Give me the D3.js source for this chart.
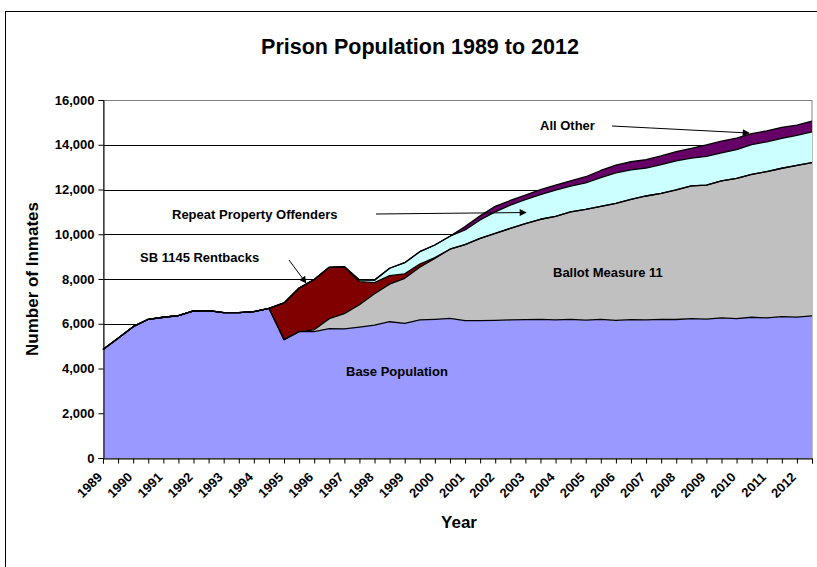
<!DOCTYPE html>
<html>
<head>
<meta charset="utf-8">
<script src="https://cdn.jsdelivr.net/npm/d3@7"></script>
<style>
  html, body { margin: 0; padding: 0; background: #fff; }
  svg { display: block; }
  text { font-family: "Liberation Sans", Arial, sans-serif; font-weight: bold; fill: #000; }
</style>
</head>
<body>
<svg id="chart" width="817" height="567"></svg>
<script>
// ---------- DATA (half-year observations, 1989 to 2012) ----------
const years = [1989,1990,1991,1992,1993,1994,1995,1996,1997,1998,1999,2000,
               2001,2002,2003,2004,2005,2006,2007,2008,2009,2010,2011,2012];

const basePopulation = [4850,5350,5870,6200,6290,6360,6580,6590,6500,6500,6540,6690,
                        5290,5650,5650,5780,5770,5850,5940,6090,6020,6170,6200,6240,
                        6140,6140,6150,6170,6180,6200,6170,6200,6160,6200,6150,6180,
                        6170,6200,6190,6230,6210,6260,6230,6290,6260,6320,6300,6350];

const ballotMeasure11 = [0,0,0,0,0,0,0,0,0,0,0,0,
                         0,0,80,450,680,1000,1400,1680,2010,2360,2720,3090,
                         3400,3680,3890,4090,4300,4470,4630,4800,4950,5050,5230,5380,
                         5540,5630,5790,5930,5990,6130,6270,6390,6540,6630,6780,6850];

const sb1145Rentbacks = [0,0,0,0,0,0,0,0,0,0,0,0,
                         1640,1950,2250,2290,2100,1030,500,380,200,140,40,0,
                         0,0,0,0,0,0,0,0,0,0,0,0,
                         0,0,0,0,0,0,0,0,0,0,0,0];

const repeatPropertyOffenders = [0,0,0,0,0,0,0,0,0,0,0,0,
                                 0,0,0,0,0,80,110,330,500,550,560,580,
                                 650,820,960,1040,1070,1100,1170,1150,1190,1280,1360,1320,
                                 1250,1280,1300,1240,1280,1250,1280,1330,1330,1340,1340,1380];

const allOther = [0,0,0,0,0,0,0,0,0,0,0,0,
                  0,0,0,0,0,0,0,0,0,0,0,0,
                  150,180,250,210,200,220,230,240,270,320,350,360,
                  370,390,410,440,510,520,520,490,490,490,460,480];

const yTicks = [0,2000,4000,6000,8000,10000,12000,14000,16000];

const seriesNames = ["Base Population","Ballot Measure 11","SB 1145 Rentbacks",
                     "Repeat Property Offenders","All Other"];
const seriesColors = ["#9999FF","#C0C0C0","#800000","#CCFFFF","#660066"];

// ---------- BUILD TABLE ----------
const periods = years.flatMap(y => [y + "a", y + "b"]);
const table = periods.map((p, i) => ({
  period: p,
  "Base Population": basePopulation[i],
  "Ballot Measure 11": ballotMeasure11[i],
  "SB 1145 Rentbacks": sb1145Rentbacks[i],
  "Repeat Property Offenders": repeatPropertyOffenders[i],
  "All Other": allOther[i]
}));

// ---------- LAYOUT ----------
const svg = d3.select("#chart");
const plot = { left: 103, right: 812, top: 100, bottom: 458 };

// outer chart frame
svg.append("rect").attr("x", 5.5).attr("y", 11.5).attr("width", 900).attr("height", 700)
  .attr("fill", "none").attr("stroke", "#000").attr("stroke-width", 1);

const x = d3.scalePoint().domain(periods).range([plot.left, plot.right]);
const y = d3.scaleLinear().domain([0, 16000]).range([plot.bottom, plot.top]);

// gridlines
svg.append("g").selectAll("line").data(yTicks.filter(t => t > 0 && t < 16000)).join("line")
  .attr("x1", plot.left).attr("x2", plot.right)
  .attr("y1", d => Math.round(y(d)) + 0.5).attr("y2", d => Math.round(y(d)) + 0.5)
  .attr("stroke", "#000").attr("stroke-width", 1);

// plot-area border (gray)
svg.append("rect").attr("x", plot.left + 0.5).attr("y", plot.top + 0.5)
  .attr("width", plot.right - plot.left - 0.5).attr("height", plot.bottom - plot.top)
  .attr("fill", "none").attr("stroke", "#808080").attr("stroke-width", 1);

// stacked areas
const stack = d3.stack().keys(seriesNames);
const layers = stack(table);

const area = d3.area()
  .x(d => x(d.data.period))
  .y0(d => y(d[0]))
  .y1(d => y(d[1]));
const topLine = d3.line()
  .x(d => x(d.data.period))
  .y(d => y(d[1]));

const gAreas = svg.append("g");
layers.forEach((layer, k) => {
  gAreas.append("path").datum(layer)
    .attr("d", area)
    .attr("fill", seriesColors[k])
    .attr("stroke", "none");
});
layers.forEach((layer, k) => {
  gAreas.append("path").datum(layer)
    .attr("d", topLine)
    .attr("fill", "none")
    .attr("stroke", "#000")
    .attr("stroke-width", 1.3)
    .attr("stroke-linejoin", "round");
});

// axes
const yAxis = d3.axisLeft(y).tickValues(yTicks).tickSize(5).tickFormat(d3.format(","));
const gy = svg.append("g").attr("transform", `translate(${plot.left + 0.5},0)`).call(yAxis);
gy.select(".domain").attr("stroke", "#000");
gy.selectAll(".tick line").attr("stroke", "#000");
gy.selectAll(".tick text").attr("x", -9).attr("font-size", 13)
  .style("font-family", "'Liberation Sans', Arial, sans-serif").style("font-weight", "bold");

const xAxis = d3.axisBottom(x).tickSize(5).tickFormat(() => "");
const gx = svg.append("g").attr("transform", `translate(0,${plot.bottom + 0.5})`).call(xAxis);
gx.select(".domain").attr("stroke", "#000");
gx.selectAll(".tick line").attr("stroke", "#000");

// x tick labels: one per year (first half-year category)
svg.append("g").selectAll("text").data(years).join("text")
  .attr("transform", d => `translate(${x(d + "a")},${plot.bottom + 20}) rotate(-45)`)
  .attr("text-anchor", "end")
  .attr("font-size", 13)
  .text(d => d);

// title and axis titles
svg.append("text").attr("x", 420).attr("y", 54).attr("text-anchor", "middle")
  .attr("font-size", 21.5).text("Prison Population 1989 to 2012");
svg.append("text").attr("transform", "translate(38,279) rotate(-90)")
  .attr("text-anchor", "middle").attr("font-size", 17).text("Number of Inmates");
svg.append("text").attr("x", 459).attr("y", 528).attr("text-anchor", "middle")
  .attr("font-size", 17).text("Year");

// ---------- ANNOTATIONS ----------
const defs = svg.append("defs");
defs.append("marker").attr("id", "arr").attr("viewBox", "0 0 10 10")
  .attr("refX", 9).attr("refY", 5).attr("markerWidth", 9).attr("markerHeight", 7)
  .attr("markerUnits", "userSpaceOnUse").attr("orient", "auto")
  .append("path").attr("d", "M0,0 L10,5 L0,10 Z").attr("fill", "#000");

const labels = [
  { text: "All Other", x: 540, y: 130 },
  { text: "Repeat Property Offenders", x: 172, y: 219 },
  { text: "SB 1145 Rentbacks", x: 140, y: 262 },
  { text: "Ballot Measure 11", x: 553, y: 277 },
  { text: "Base Population", x: 346, y: 376 }
];
svg.append("g").selectAll("text").data(labels).join("text")
  .attr("x", d => d.x).attr("y", d => d.y).attr("font-size", 13).text(d => d.text);

const arrows = [
  { x1: 612, y1: 126, x2: 749, y2: 133 },
  { x1: 376, y1: 214, x2: 526, y2: 212.5 },
  { x1: 289, y1: 260, x2: 306, y2: 283 }
];
svg.append("g").selectAll("line").data(arrows).join("line")
  .attr("x1", d => d.x1).attr("y1", d => d.y1).attr("x2", d => d.x2).attr("y2", d => d.y2)
  .attr("stroke", "#000").attr("stroke-width", 1).attr("marker-end", "url(#arr)");
</script>
</body>
</html>
